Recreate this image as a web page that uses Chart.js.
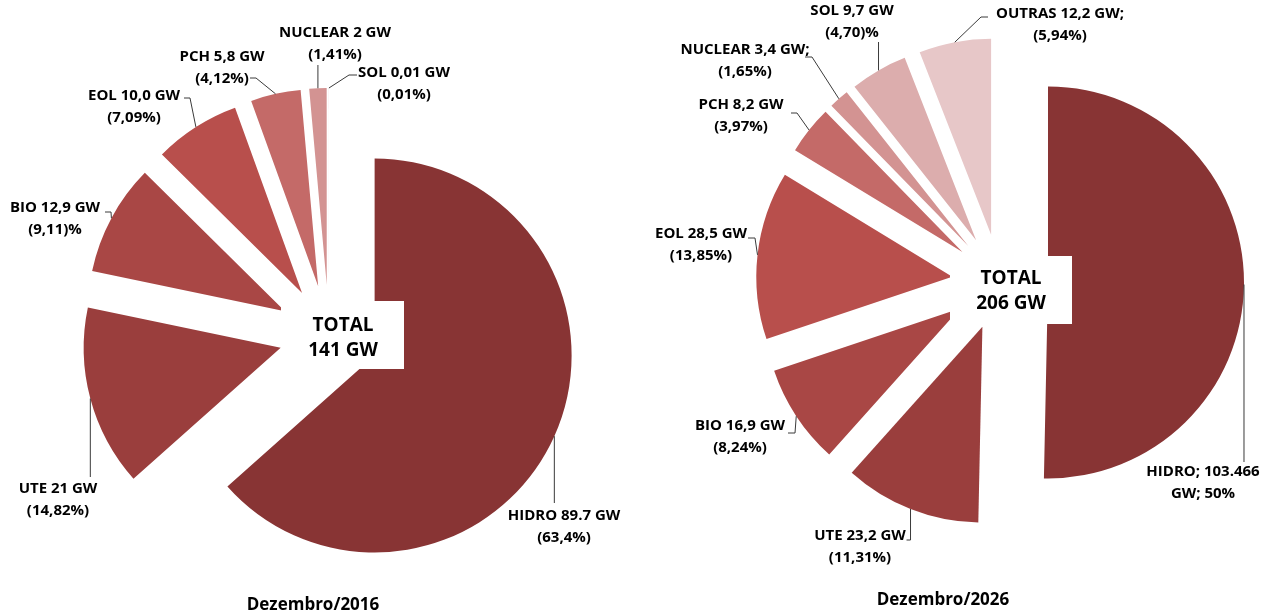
<!DOCTYPE html>
<html>
<head>
<meta charset="utf-8">
<script src="https://cdn.jsdelivr.net/npm/chart.js@4.4.0/dist/chart.umd.min.js"></script>
<style>
  html, body { margin: 0; padding: 0; background: #fff; overflow: hidden; }
  canvas { position: absolute; left: 0; top: 0; }
</style>
</head>
<body>
<canvas id="pie2016" width="1264" height="610"></canvas>
<canvas id="pie2026" width="1264" height="610"></canvas>
<script>
// --- data ---
const sources2016 = ['HIDRO', 'UTE', 'BIO', 'EOL', 'PCH', 'NUCLEAR', 'SOL'];
const gw2016 = [89.7, 21, 12.9, 10.0, 5.8, 2, 0.01];
const labels2016 = [
    ['HIDRO 89.7 GW', '(63,4%)'],
    ['UTE 21 GW', '(14,82%)'],
    ['BIO 12,9 GW', '(9,11)%'],
    ['EOL 10,0 GW', '(7,09%)'],
    ['PCH 5,8 GW', '(4,12%)'],
    ['NUCLEAR 2 GW', '(1,41%)'],
    ['SOL 0,01 GW', '(0,01%)']
];
const total2016 = ['TOTAL', '141 GW'];
const title2016 = 'Dezembro/2016';

const sources2026 = ['HIDRO', 'UTE', 'BIO', 'EOL', 'PCH', 'NUCLEAR', 'SOL', 'OUTRAS'];
const gw2026 = [103.466, 23.2, 16.9, 28.5, 8.2, 3.4, 9.7, 12.2];
const labels2026 = [
    ['HIDRO; 103.466', 'GW; 50%'],
    ['UTE 23,2 GW', '(11,31%)'],
    ['BIO 16,9 GW', '(8,24%)'],
    ['EOL 28,5 GW', '(13,85%)'],
    ['PCH 8,2 GW', '(3,97%)'],
    ['NUCLEAR 3,4 GW;', '(1,65%)'],
    ['SOL 9,7 GW', '(4,70)%'],
    ['OUTRAS 12,2 GW;', '(5,94%)']
];
const total2026 = ['TOTAL', '206 GW'];
const title2026 = 'Dezembro/2026';

// --- styles / layout ---
const palette = {
    HIDRO: '#883434', UTE: '#9a3e3d', BIO: '#a94745', EOL: '#b84f4c',
    PCH: '#c46a68', NUCLEAR: '#d39392', SOL: '#dcadad', OUTRAS: '#e7c7c8'
};
const FONT = '"Liberation Sans Narrow", "Open Sans", sans-serif';

// label layout: [textX, textY, kneeX, kneeY, endX, endY] (null knee x = straight up/down from the arc)
const layout2016 = [
    [564, 516, null, 503, null, 503],
    [58, 489, null, 477, null, 477],
    [55, 208, 111, 212, 105, 212],
    [134, 96, 190, 98, 184, 98],
    [222, 57, 256, 78, 250, 78],
    [335, 33, null, 65, null, 65],
    [404, 73, 349, 75, 357, 75]
];
const layout2026 = [
    [1203, 472, null, 462, null, 462],
    [860, 536, null, 540, -4, 540],
    [740, 426, 795, 433, 788, 433],
    [701, 234, 755, 238, 748, 238],
    [741, 105, 797, 113, 791, 113],
    [745, 50, 812, 57, 805, 57],
    [852, 11, null, 42, null, 42],
    [1060, 14, 981, 17, 988, 17]
];

// Excel-style explosion: pull every slice straight out along its bisector,
// without the radius/angle tweaks Chart.js applies to its own `offset`
function explode(distance) {
    return {
        id: 'explode',
        beforeDatasetsDraw(chart) {
            const area = chart.chartArea;
            const cx = (area.left + area.right) / 2;
            const cy = (area.top + area.bottom) / 2;
            chart.getDatasetMeta(0).data.forEach(arc => {
                const half = (arc.startAngle + arc.endAngle) / 2;
                arc.x = cx + Math.cos(half) * distance;
                arc.y = cy + Math.sin(half) * distance;
                arc.pieCenter = { x: cx, y: cy };
            });
        }
    };
}

function arcAnchor(arc) {
    const half = (arc.startAngle + arc.endAngle) / 2;
    return { x: arc.x + Math.cos(half) * arc.outerRadius, y: arc.y + Math.sin(half) * arc.outerRadius };
}

function pieAnnotations(labels, layout, total, title, titlePos, box) {
    return {
        id: 'pieAnnotations',
        afterDatasetsDraw(chart) {
            const ctx = chart.ctx;
            const arcs = chart.getDatasetMeta(0).data;
            const c = arcs[0].pieCenter;
            ctx.save();

            // white box with total in the middle
            ctx.fillStyle = '#fff';
            ctx.fillRect(c.x + box[0], c.y + box[1], box[2], box[3]);
            ctx.fillStyle = '#000';
            ctx.font = 'bold 19px ' + FONT;
            ctx.textAlign = 'center';
            ctx.textBaseline = 'middle';
            ctx.fillText(total[0], c.x + box[4], c.y + box[5]);
            ctx.fillText(total[1], c.x + box[4], c.y + box[5] + 25);

            // leader lines + labels
            ctx.strokeStyle = '#3a3a3a';
            ctx.lineWidth = 1;
            ctx.font = 'bold 15px ' + FONT;
            arcs.forEach((arc, i) => {
                const a = arcAnchor(arc);
                const [tx, ty, kx, ky, ex, ey] = layout[i];
                const kneeX = kx === null ? a.x : kx;
                const endX = ex === null ? a.x : (ex < 0 ? a.x + ex : ex);
                ctx.beginPath();
                ctx.moveTo(a.x, a.y);
                ctx.lineTo(kneeX, ky);
                ctx.lineTo(endX, ey);
                ctx.stroke();
                ctx.fillStyle = '#000';
                ctx.fillText(labels[i][0], tx, ty);
                ctx.fillText(labels[i][1], tx, ty + 22);
            });

            ctx.font = 'bold 17px ' + FONT;
            ctx.fillText(title, titlePos[0], titlePos[1]);
            ctx.restore();
        }
    };
}

function makePie(canvasId, sources, values, labels, layout, total, title, titlePos, padding, radius, pull, box) {
    const canvas = document.getElementById(canvasId);
    return new Chart(canvas.getContext('2d'), {
        type: 'pie',
        data: {
            labels: sources,
            datasets: [{
                data: values,
                backgroundColor: sources.map(s => palette[s]),
                borderWidth: 0,
                hoverOffset: 0
            }]
        },
        options: {
            responsive: false,
            animation: false,
            events: [],
            radius: radius,
            layout: { padding: padding },
            plugins: { legend: { display: false }, tooltip: { enabled: false } }
        },
        plugins: [explode(pull), pieAnnotations(labels, layout, total, title, titlePos, box)]
    });
}

// padding puts each pie centre where it sits in the picture
makePie('pie2016', sources2016, gw2016, labels2016, layout2016, total2016, title2016,
    [313, 605], { left: 0, right: 606, top: 60, bottom: 0 }, 197, 50, [-48, -34, 123, 68, 14, -9]);
makePie('pie2026', sources2026, gw2026, labels2026, layout2026, total2026, title2026,
    [943, 600], { left: 736, right: 0, top: 0, bottom: 46 }, 196, 48, [-50, -26, 122, 68, 11, -3]);
</script>
</body>
</html>
